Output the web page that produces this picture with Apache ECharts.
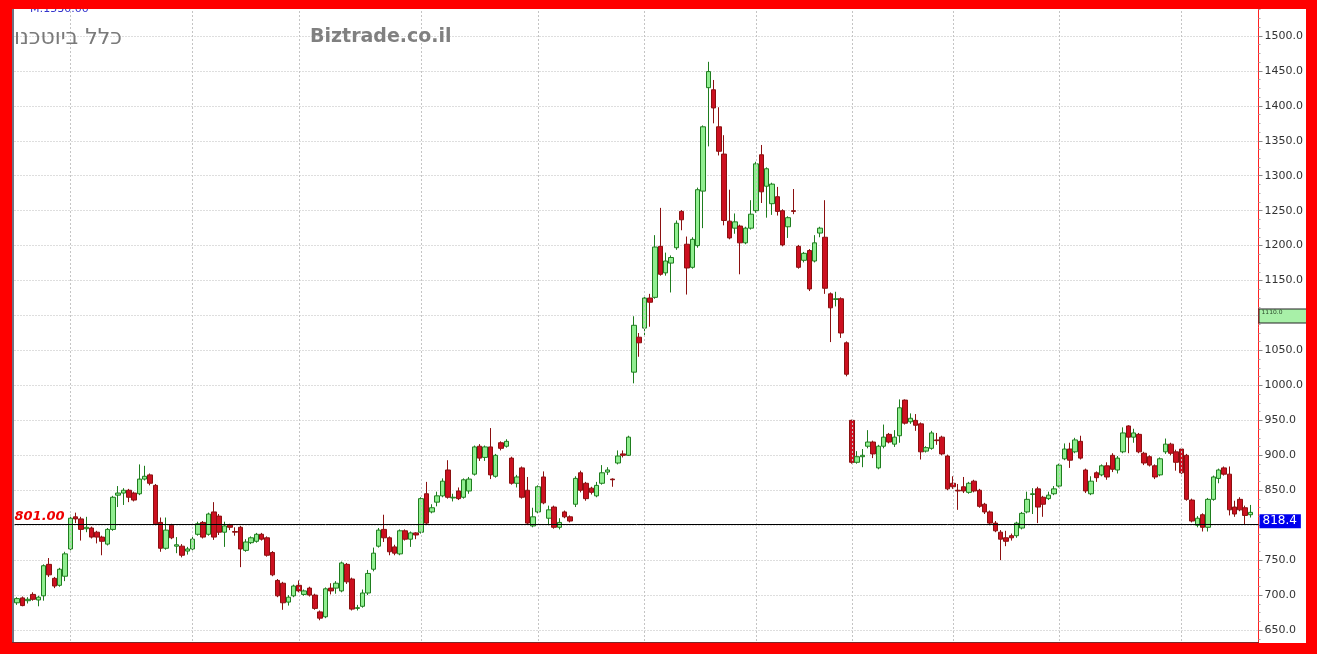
<!DOCTYPE html>
<html><head><meta charset="utf-8">
<script src="https://cdn.jsdelivr.net/npm/echarts@6/dist/echarts.min.js"></script>
<style>html,body{margin:0;padding:0;background:#fff}#c{width:1317px;height:654px}</style>
</head><body><div id="c"></div>
<script>
const opens = [689,696,692,701,693,699,744,724,714,727,
766,812,809,795,796,790,783,773,794,843,
846,850,846,845,866,872,857,804,767,800,
770,770,763,766,787,804,787,819,813,790,
800,791,797,764,775,777,787,782,761,721,
717,690,699,714,701,710,700,676,669,710,
710,706,744,723,681,684,703,737,770,794,
782,769,759,792,780,789,790,845,819,833,
842,879,839,849,840,849,873,913,897,912,
870,918,913,896,860,882,850,799,819,869,
810,826,797,819,812,830,875,860,853,842,
860,876,866,889,902,900,1019,1069,1082,1125,
1126,1199,1161,1175,1197,1249,1202,1169,1200,1278,
1426,1423,1370,1331,1235,1225,1228,1204,1225,1250,
1330,1285,1260,1270,1250,1227,1250,1199,1179,1193,
1178,1218,1212,1131,1123,1124,1061,950,890,898,
913,919,882,913,930,916,928,979,948,950,
945,906,910,922,926,899,860,850,855,847,
863,850,830,819,803,790,782,785,785,796,
819,844,852,840,838,845,856,895,909,905,
920,879,845,875,872,885,900,879,905,942,
926,930,903,898,885,872,905,916,905,909,
900,836,800,815,797,837,867,882,873,826,
837,825,815];
const closes = [695,685,694,694,697,742,729,713,737,759,
810,809,794,797,783,783,777,794,840,846,
850,840,836,866,870,860,802,767,793,782,
772,757,766,780,802,783,816,783,790,799,
797,790,766,776,782,787,780,757,729,699,
689,697,713,706,706,700,681,667,709,706,
717,746,719,680,682,703,731,760,793,782,
762,760,792,780,789,786,838,803,825,842,
863,840,840,838,865,866,912,896,912,872,
900,910,920,860,869,840,803,812,855,832,
822,797,804,812,806,867,850,838,847,857,
875,879,865,899,900,926,1086,1061,1125,1119,
1198,1159,1178,1183,1232,1237,1168,1209,1280,1370,
1449,1397,1335,1236,1211,1234,1204,1225,1245,1317,
1277,1310,1288,1249,1201,1240,1249,1169,1189,1138,
1204,1225,1139,1111,1124,1075,1016,890,898,900,
919,902,913,926,919,926,968,946,953,943,
905,911,932,921,902,852,855,849,849,860,
849,827,819,803,792,780,777,782,803,817,
837,845,826,830,843,852,886,909,893,922,
896,849,863,868,885,869,880,896,932,926,
932,905,889,886,869,895,916,903,890,875,
837,806,810,797,837,869,879,873,822,816,
822,814,818.4];
const lows = [686,684,688,692,684,692,726,710,712,720,
764,803,778,790,781,774,757,771,792,826,
829,833,834,843,864,857,800,762,765,780,
760,754,758,764,785,781,785,779,786,769,
793,785,740,762,773,775,778,755,727,697,
679,685,697,704,699,698,679,664,667,701,
702,704,716,678,678,682,700,734,768,776,
757,757,757,778,769,780,788,801,817,827,
840,838,834,836,838,845,871,892,892,866,
868,907,911,858,854,838,801,797,817,830,
800,795,794,810,804,826,847,835,844,840,
858,872,855,887,897,899,1003,1041,1072,1084,
1124,1157,1157,1133,1194,1222,1130,1167,1197,1225,
1342,1375,1329,1229,1209,1217,1159,1202,1223,1247,
1261,1240,1244,1243,1199,1211,1245,1167,1176,1135,
1176,1212,1131,1062,1113,1068,1013,888,888,883,
910,896,880,910,917,912,918,944,945,935,
894,904,908,915,900,850,852,822,846,845,
847,825,816,800,790,750,770,778,782,794,
817,816,803,812,836,843,854,893,882,903,
894,846,843,862,870,865,876,874,903,903,
918,903,886,884,866,870,902,900,878,873,
835,804,797,791,791,835,860,871,814,812,
820,801,811];
const highs = [697,698,697,704,699,744,753,726,739,762,
815,818,812,812,798,792,785,796,842,856,
853,852,848,887,885,874,859,811,811,802,
783,773,769,784,805,806,818,833,816,805,
802,797,799,780,784,789,789,784,763,723,
719,700,715,721,708,712,702,678,711,717,
720,748,746,725,686,708,736,768,796,815,
784,772,794,794,791,790,840,862,830,848,
867,893,845,854,867,869,914,916,914,939,
902,920,923,898,872,884,869,825,857,877,
828,828,810,821,814,870,878,862,855,862,
886,883,867,907,907,928,1099,1075,1127,1131,
1215,1254,1190,1186,1236,1251,1213,1212,1283,1372,
1463,1437,1398,1358,1280,1246,1230,1227,1265,1320,
1344,1312,1290,1284,1252,1242,1281,1201,1191,1195,
1215,1227,1265,1133,1134,1126,1063,951,906,909,
936,921,915,944,932,936,980,980,960,959,
947,913,935,932,928,901,870,859,869,862,
865,852,832,821,806,793,792,788,805,819,
848,853,855,842,848,856,888,917,918,925,
928,881,870,877,887,890,903,899,940,943,
938,932,905,900,887,897,924,918,908,911,
902,838,813,817,839,871,881,884,884,835,
840,828,829];
const monthStartIdx = [10,33,53,76,98,118,139,157,176,196,219];
const refLevel = 801;
const lastPrice = 818.4;
const markerLevel = 1100;
const markerText = '1110.0';
const maxText = 'M:1530.00';
const titleHe = 'כלל ביוטכנו';
const siteText = 'Biztrade.co.il';
const yMin = 600, yMax = 1550, yStep = 50;

const categories = opens.map((_, i) => String(i + 1)).concat(['']);
const candleData = opens.map((o, i) => [o, closes[i], lows[i], highs[i]]);

const chart = echarts.init(document.getElementById('c'), null, {renderer: 'canvas'});
const FONT = 'DejaVu Sans';
const hidden = {color: 'rgba(0,0,0,0)', opacity: 1, width: 1, type: 'solid'};
chart.setOption({
  animation: false,
  backgroundColor: '#ffffff',
  grid: {left: 14.5, top: 1, width: 1244, height: 664, outerBoundsMode: 'none', containLabel: false},
  xAxis: {
    type: 'category', data: categories, boundaryGap: true,
    axisLine: {show: false}, axisTick: {show: false}, axisLabel: {show: false}, splitLine: {show: false}
  },
  yAxis: {
    type: 'value', position: 'right', min: yMin, max: yMax, interval: yStep,
    axisLine: {show: true, lineStyle: {color: '#ff2020', width: 1}},
    axisTick: {show: true, length: 4, lineStyle: {color: '#888'}},
    minorTick: {show: true, splitNumber: 4, length: 2, lineStyle: {color: '#aaa'}},
    axisLabel: {color: '#333', fontFamily: FONT, fontSize: 11, margin: 6,
      formatter: v => v.toFixed(1)},
    splitLine: {show: true, lineStyle: {color: '#bdbdbd', type: [1, 2], width: 1}}
  },
  series: [{
    type: 'candlestick',
    data: candleData,
    barWidth: 5,
    clip: false,
    itemStyle: {
      color: '#90ee90', color0: '#cc1020',
      borderColor: '#1e7d1e', borderColor0: '#8b1010', borderWidth: 1
    },
    markLine: {
      silent: true, symbol: 'none', animation: false,
      data: [
        ...monthStartIdx.map(i => ({xAxis: categories[i],
          lineStyle: {color: '#c4c4c4', type: [2, 2], width: 1}, label: {show: false}})),
        {yAxis: refLevel, lineStyle: {color: '#000', type: 'solid', width: 1},
          label: {show: true, position: 'insideStartTop', formatter: refLevel.toFixed(2),
            color: '#ee0000', fontStyle: 'italic', fontWeight: 'bold', fontFamily: FONT, fontSize: 13, distance: [0, 1]}},
        {yAxis: lastPrice, lineStyle: hidden,
          label: {show: true, opacity: 1, position: 'end', formatter: String(lastPrice), distance: 1,
            color: '#fff', backgroundColor: '#0000ee', fontFamily: FONT, fontSize: 12,
            padding: [1, 4, 1, 3], offset: [0, 9]}},
        {yAxis: markerLevel, lineStyle: hidden,
          label: {show: true, opacity: 1, position: 'end', formatter: markerText, distance: 1,
            color: '#2b4a2b', backgroundColor: '#a8f0a8', borderColor: '#222', borderWidth: 1,
            fontFamily: FONT, fontSize: 6, width: 44, height: 11, verticalAlign: 'top',
            padding: [0, 2, 2, 2], offset: [0, -6]}}
      ]
    }
  }],
  graphic: [
    {type: 'text', left: 30, top: 4, z: 50, style: {text: maxText, fill: '#3333cc', font: '11px "DejaVu Sans"'}},
    {type: 'text', left: 14, top: 27, z: 50, style: {text: titleHe, fill: '#7a7a7a', font: '22px "DejaVu Sans"'}},
    {type: 'text', left: 310, top: 28, z: 50, style: {text: siteText, fill: '#808080', font: 'bold 19px "DejaVu Sans"'}},
    {type: 'rect', z: 100, shape: {x: 0, y: 0, width: 1317, height: 9}, style: {fill: '#ff0000'}},
    {type: 'rect', z: 100, shape: {x: 0, y: 643, width: 1317, height: 11}, style: {fill: '#ff0000'}},
    {type: 'rect', z: 100, shape: {x: 0, y: 0, width: 12, height: 654}, style: {fill: '#ff0000'}},
    {type: 'rect', z: 100, shape: {x: 1306, y: 0, width: 11, height: 654}, style: {fill: '#ff0000'}},
    {type: 'rect', z: 100, shape: {x: 12, y: 9, width: 2, height: 634}, style: {fill: '#707080'}},
    {type: 'rect', z: 100, shape: {x: 12, y: 642, width: 1247, height: 1}, style: {fill: '#7a2a2a'}}
  ]
});
</script></body></html>
